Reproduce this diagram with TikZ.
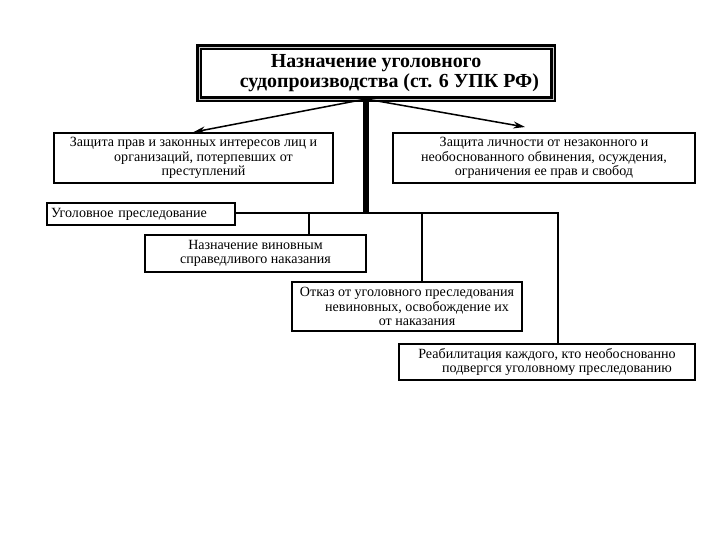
\documentclass[tikz,border=0pt]{standalone}
\usepackage{fontspec}
\setmainfont{Liberation Serif}
\usetikzlibrary{arrows.meta}
\tikzset{
  box/.style={draw, line width=1.5pt, align=center, inner sep=1pt,
    font=\fontsize{12}{12.2}\selectfont},
  link/.style={line width=1.3pt},
}
\begin{document}
\begin{tikzpicture}[x=0.03cm, y=-0.03cm]
      \useasboundingbox (0,0) rectangle (720,540);
      \def\hy{213};
      % top box
      \node[draw, line width=2.4pt, double=gray!40, double distance=0.5pt,
        minimum width=354*0.03cm, minimum height=52*0.03cm, align=center,
        font=\bfseries\fontsize{17}{17}\selectfont] (title) at (376,73)
        {Назначение уголовного\\ \hspace*{0.8cm}судопроизводства (ст. 6 УПК РФ)};
      \node[box, minimum width=279*0.03cm, minimum height=50*0.03cm] (prot) at (193.5,158)
        {Защита прав и законных интересов лиц и\\ \hspace*{0.6cm}организаций, потерпевших от\\ \hspace*{0.6cm}преступлений};
      \node[box, minimum width=302*0.03cm, minimum height=50*0.03cm] (protr) at (544,158)
        {Защита личности от незаконного и\\ необоснованного обвинения, осуждения,\\ ограничения ее прав и свобод};
      \node[box, minimum width=188*0.03cm, minimum height=22*0.03cm, text width=180*0.03cm, align=left] (ugol) at (141,214)
        {Уголовное преследование};
      \node[box, minimum width=221*0.03cm, minimum height=37*0.03cm] (nazn) at (255.5,253.5)
        {Назначение виновным\\ справедливого наказания};
      \node[box, minimum width=230*0.03cm, minimum height=49*0.03cm] (otkaz) at (407,306.5)
        {Отказ от уголовного преследования\\ \hspace*{0.6cm}невиновных, освобождение их\\ \hspace*{0.6cm}от наказания};
      \node[box, minimum width=296*0.03cm, minimum height=36*0.03cm] (reab) at (547,362)
        {Реабилитация каждого, кто необоснованно\\ \hspace*{0.6cm}подвергся уголовному преследованию};
      % branching
      \coordinate (top) at (366,99);
      \coordinate (rtip) at (525,127);
      \draw[line width=5pt] (top) -- (366,\hy);
      \draw[link, -{Stealth[length=10pt,width=6pt]}] (top) -- (prot.north);
      \draw[link, -{Stealth[length=10pt,width=6pt]}] (top) -- (rtip);
      \draw[link] (ugol.east |- 0,\hy) -- (558,\hy) -- (reab.north -| 558,0);
      \draw[link] (309,\hy) -- (nazn.north -| 309,0);
      \draw[link] (422,\hy) -- (otkaz.north -| 422,0);
\end{tikzpicture}
\end{document}
